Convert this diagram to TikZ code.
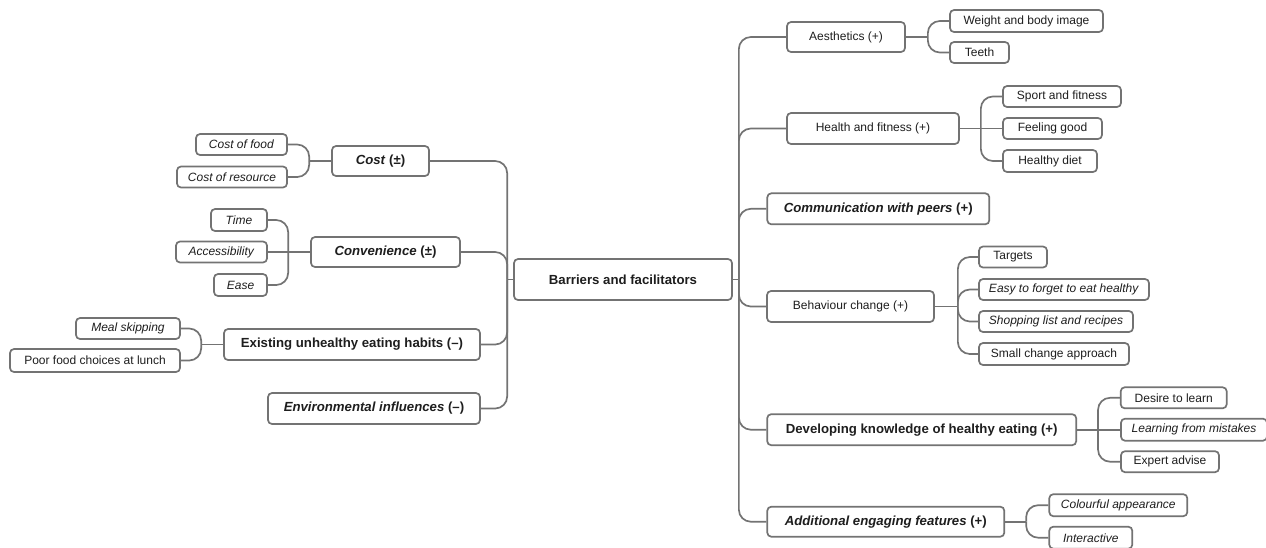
\documentclass[tikz,border=0pt]{standalone}
\usepackage{fontspec}
\setmainfont{Liberation Sans}
\usepackage{tikz}
\usepackage{xcolor}
\definecolor{linegray}{RGB}{115,115,115}
\definecolor{textgray}{RGB}{30,30,30}

\begin{document}
\begin{tikzpicture}[x=1pt,y=-1pt,
  box/.style={draw=linegray,line width=1.7pt,rounded corners=4pt,fill=white,text=textgray,inner sep=0pt,align=center},
  leaf/.style={box,font=\fontsize{12}{14}\selectfont,minimum height=21pt},
  topic/.style={box,font=\fontsize{12}{14}\selectfont,minimum height=30pt},
  key/.style={box,font=\bfseries\fontsize{13.2}{15}\selectfont,minimum height=31pt},
  link/.style={draw=linegray,line width=1.7pt,rounded corners=12pt}]
\useasboundingbox (0,0) rectangle (1266,547);
% centre
\node[key,minimum width=218pt,minimum height=41pt] (root) at (623,279.5) {Barriers and facilitators};
% left side
\node[key,minimum width=97pt,minimum height=30pt] (cost) at (380.5,161) {\textit{Cost} (±)};
\node[key,minimum width=149pt,minimum height=30pt] (conv) at (385.5,252) {\textit{Convenience} (±)};
\node[key,minimum width=256pt] (habits) at (352,344.5) {Existing unhealthy eating habits (–)};
\node[key,minimum width=212pt] (env) at (374,408.5) {\textit{Environmental influences} (–)};
\node[leaf,minimum width=91pt] (costfood) at (241.5,144.5) {\textit{Cost of food}};
\node[leaf,minimum width=110pt] (costres) at (232,177) {\textit{Cost of resource}};
\node[leaf,minimum width=56pt,minimum height=22pt] (time) at (239,220) {\textit{Time}};
\node[leaf,minimum width=91pt] (access) at (221.5,252) {\textit{Accessibility}};
\node[leaf,minimum width=53pt,minimum height=22pt] (ease) at (240.5,285) {\textit{Ease}};
\node[leaf,minimum width=104pt] (meal) at (128,328.5) {\textit{Meal skipping}};
\node[leaf,minimum width=170pt,minimum height=23pt] (poor) at (95,360.5) {Poor food choices at lunch};
% right side
\node[topic,minimum width=118pt] (aes) at (846,37) {Aesthetics (+)};
\node[topic,minimum width=172pt,minimum height=31pt] (health) at (873,128.5) {Health and fitness (+)};
\node[key,minimum width=222pt] (comm) at (878.3,208.8) {\textit{Communication with peers} (+)};
\node[topic,minimum width=167pt,minimum height=31pt] (behav) at (850.5,306.5) {Behaviour change (+)};
\node[key,minimum width=309pt] (devel) at (921.7,429.7) {Developing knowledge of healthy eating (+)};
\node[key,minimum width=237pt,minimum height=30pt] (addit) at (885.8,521.7) {\textit{Additional engaging features} (+)};
\node[leaf,minimum width=153pt,minimum height=22pt] (weight) at (1026.5,21) {Weight and body image};
\node[leaf,minimum width=59pt] (teeth) at (979.5,52.5) {Teeth};
\node[leaf,minimum width=118pt] (sport) at (1062,96.5) {Sport and fitness};
\node[leaf,minimum width=99pt] (feel) at (1052.5,128.5) {Feeling good};
\node[leaf,minimum width=94pt,minimum height=22pt] (diet) at (1050,161) {Healthy diet};
\node[leaf,minimum width=68pt] (targets) at (1013,257) {Targets};
\node[leaf,minimum width=170pt] (easy) at (1064,289.5) {\textit{Easy to forget to eat healthy}};
\node[leaf,minimum width=154pt] (shop) at (1056,321.5) {\textit{Shopping list and recipes}};
\node[leaf,minimum width=150pt,minimum height=22pt] (small) at (1054,354) {Small change approach};
\node[leaf,minimum width=106pt] (desire) at (1173.7,397.8) {Desire to learn};
\node[leaf,minimum width=146pt,minimum height=22pt] (learn) at (1194,429.7) {\textit{Learning from mistakes}};
\node[leaf,minimum width=98pt] (expert) at (1170,461.7) {Expert advise};
\node[leaf,minimum width=138pt,minimum height=22pt] (colour) at (1118.3,505.2) {\textit{Colourful appearance}};
\node[leaf,minimum width=83pt,minimum height=22pt] (inter) at (1090.8,537.7) {\textit{Interactive}};
% junctions
\coordinate (lj) at ([xshift=-6pt]root.west);
\coordinate (rj) at ([xshift=6pt]root.east);
\coordinate (costj) at ([xshift=-22pt]cost.west);
\coordinate (convj) at ([xshift=-22pt]conv.west);
\coordinate (habitsj) at ([xshift=-22pt]habits.west);
\coordinate (aesj) at ([xshift=22pt]aes.east);
\coordinate (healthj) at ([xshift=21pt]health.east);
\coordinate (behavj) at ([xshift=23pt]behav.east);
\coordinate (develj) at ([xshift=21pt]devel.east);
\coordinate (additj) at ([xshift=21pt]addit.east);
% trunks
\draw[link] (root.west) -- (lj);
\draw[link] (cost.east) -| (lj);
\draw[link] (conv.east) -| (lj);
\draw[link] (habits.east) -| (lj);
\draw[link] (env.east) -| (lj);
\draw[link] (root.east) -- (rj);
\draw[link] (aes.west) -| (rj);
\draw[link] (health.west) -| (rj);
\draw[link] (comm.west) -| (rj);
\draw[link] (behav.west) -| (rj);
\draw[link] (devel.west) -| (rj);
\draw[link] (addit.west) -| (rj);
% branches
\draw[link] (cost.west) -- (costj);
\draw[link] (costfood.east) -| (costj);
\draw[link] (costres.east) -| (costj);
\draw[link] (conv.west) -- (convj);
\draw[link] (time.east) -| (convj);
\draw[link] (access.east) -- (convj);
\draw[link] (ease.east) -| (convj);
\draw[link] (habits.west) -- (habitsj);
\draw[link] (meal.east) -| (habitsj);
\draw[link] (poor.east) -| (habitsj);
\draw[link] (aes.east) -- (aesj);
\draw[link] (weight.west) -| (aesj);
\draw[link] (teeth.west) -| (aesj);
\draw[link] (health.east) -- (healthj);
\draw[link] (sport.west) -| (healthj);
\draw[link] (feel.west) -- (healthj);
\draw[link] (diet.west) -| (healthj);
\draw[link] (behav.east) -- (behavj);
\draw[link] (targets.west) -| (behavj);
\draw[link] (easy.west) -| (behavj);
\draw[link] (shop.west) -| (behavj);
\draw[link] (small.west) -| (behavj);
\draw[link] (devel.east) -- (develj);
\draw[link] (desire.west) -| (develj);
\draw[link] (learn.west) -- (develj);
\draw[link] (expert.west) -| (develj);
\draw[link] (addit.east) -- (additj);
\draw[link] (colour.west) -| (additj);
\draw[link] (inter.west) -| (additj);
\end{tikzpicture}
\end{document}
